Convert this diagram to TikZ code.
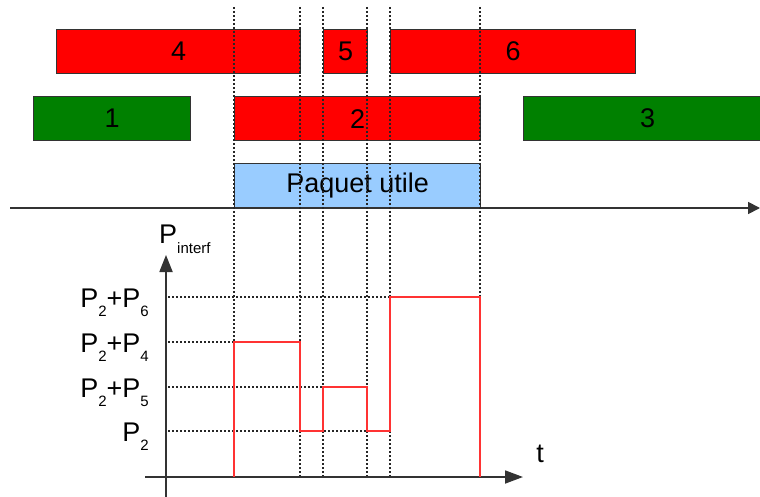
\documentclass[tikz,border=0pt]{standalone}
\usepackage{fontspec}
\setmainfont{Liberation Sans}
\usetikzlibrary{arrows.meta,positioning}
\definecolor{pktred}{HTML}{FF0000}
\definecolor{pktgreen}{HTML}{008000}
\definecolor{pktblue}{HTML}{99CCFF}
\definecolor{linegray}{HTML}{333333}
\definecolor{sigred}{HTML}{FF3333}
\newcommand{\lowsub}[2][9pt]{\raisebox{-#1}{\fontsize{15}{15}\selectfont #2}}
\tikzset{
  packet/.style={draw=linegray, line width=1.2pt, minimum height=44pt,
    inner sep=0pt, anchor=north west, font=\fontsize{27}{27}\selectfont},
  axisline/.style={draw=linegray, line width=1.8pt},
  guide/.style={draw=black!85, line width=1.8pt, dash pattern=on 1.8pt off 2.2pt},
  signal/.style={draw=sigred, line width=1.8pt},
  lvllabel/.style={anchor=base east, inner sep=0pt, font=\fontsize{27}{27}\selectfont}
}
\begin{document}
\begin{tikzpicture}[x=1pt, y=-1pt]
  \useasboundingbox (0,0) rectangle (760,497);
  % packets on the channel
  \node[packet, fill=pktred, minimum width=244pt] (p4) at (56,29) {4};
  \node[packet, fill=pktred, minimum width=44pt] (p5) at (323,29) {5};
  \node[packet, fill=pktred, minimum width=245pt] (p6) at (390,29) {6};
  \node[packet, fill=pktgreen, minimum width=157pt] (p1) at (33,96) {1};
  \node[packet, fill=pktred, minimum width=246pt] (p2) at (234,96) {2};
  \node[packet, fill=pktgreen, minimum width=248pt] (p3) at (523,96) {3};
  \node[packet, fill=pktblue, minimum width=246pt] (paquet) at (234,163) {Paquet utile};
  % time line
  \coordinate (t0) at (10,208);
  \coordinate (t1) at (760,208);
  \draw[axisline, -{Triangle[length=12pt, width=12pt]}] (t0) -- (t1);
  % instants
  \foreach \x in {234,300,323,367,390,480}
      \draw[guide] (\x,7) -- (\x,477);
  % interference levels
  \coordinate (o) at (166,477);
  \draw[guide] (168,297) -- (390,297);
  \draw[guide] (168,342) -- (234,342);
  \draw[guide] (168,387) -- (323,387);
  \draw[guide] (168,431) -- (390,431);
  \node[lvllabel] (l26) at (149,307) {P\lowsub{2}+P\lowsub{6}};
  \node[lvllabel] (l24) at (149,352) {P\lowsub{2}+P\lowsub{4}};
  \node[lvllabel] (l25) at (149,397) {P\lowsub{2}+P\lowsub{5}};
  \node[lvllabel] (l2) at (149,441) {P\lowsub{2}};
  % axes
  \draw[axisline, -{Triangle[length=17pt, width=13pt]}] (166,497) -- (166,255);
  \draw[axisline, -{Triangle[length=18pt, width=13pt]}] (145,477) -- (523,477);
  \node[anchor=base west, inner sep=0pt, font=\fontsize{27}{27}\selectfont] (pint) at (159,243) {P\lowsub[10pt]{interf}};
  \node[anchor=base, inner sep=0pt, font=\fontsize{27}{27}\selectfont] (tlab) at (540,462) {t};
  % received interference
  \draw[signal] (234,477) |- (300,342) |- (323,431) |- (367,387)
      |- (390,431) |- (480,297) -- (480,477);
\end{tikzpicture}
\end{document}
